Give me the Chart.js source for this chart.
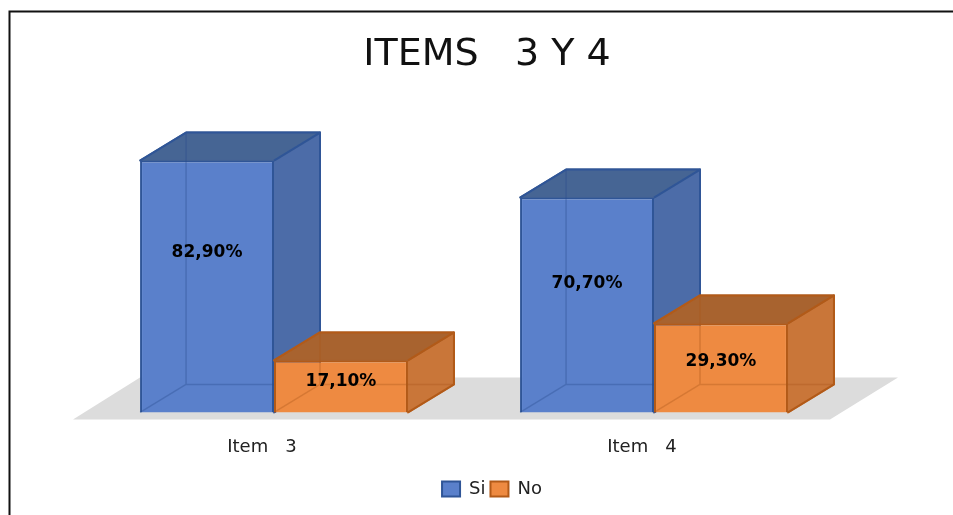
<!DOCTYPE html>
<html>
<head>
<meta charset="utf-8">
<style>
  html, body { margin: 0; padding: 0; background: #fff; }
  #wrap { position: relative; width: 953px; height: 515px; }
</style>
<script src="https://cdn.jsdelivr.net/npm/chart.js@4"></script>
</head>
<body>
<div id="wrap"><canvas id="chart" width="953" height="515"></canvas></div>
<script>
const categories = ["Item   3", "Item   4"];
const siValues = [82.9, 70.7];
const noValues = [17.1, 29.3];
const siLabels = ["82,90%", "70,70%"];
const noLabels = ["17,10%", "29,30%"];

const DEPTH_X = 46;
const DEPTH_Y = 28;
const FONT = "'DejaVu Sans'";

const faces = [
  { front: "#5a80cb", side: "#4c6ca8", top: "#466594", edge: "#2f5597", inner: "rgba(40,75,140,0.35)" },
  { front: "#ee8a41", side: "#c97639", top: "#a8632f", edge: "#b25a18", inner: "rgba(170,85,25,0.35)" },
];
const labelLift = [[34, 21], [5, 6]];
const labelText = [siLabels, noLabels];

function poly(ctx, pts, fill, stroke) {
  ctx.beginPath();
  pts.forEach((p, i) => (i ? ctx.lineTo(p[0], p[1]) : ctx.moveTo(p[0], p[1])));
  ctx.closePath();
  ctx.fillStyle = fill;
  ctx.fill();
  if (stroke) {
    ctx.strokeStyle = stroke;
    ctx.lineWidth = 2;
    ctx.lineJoin = "round";
    ctx.stroke();
  }
}

function drawBoxes(chart, index) {
  const { ctx } = chart;
  const c = faces[index];
  ctx.save();
  chart.getDatasetMeta(index).data.forEach((bar) => {
    const l = bar.x - bar.width / 2;
    const r = bar.x + bar.width / 2;
    const t = bar.y;
    const b = bar.base;
    poly(ctx, [[r, t], [r + DEPTH_X, t - DEPTH_Y], [r + DEPTH_X, b - DEPTH_Y], [r, b]], c.side, c.side);
    poly(ctx, [[l, t], [l + DEPTH_X, t - DEPTH_Y], [r + DEPTH_X, t - DEPTH_Y], [r, t]], c.top, c.top);

    bar.draw(ctx);

    // back edges seen through the front face
    ctx.strokeStyle = c.inner;
    ctx.lineWidth = 1.5;
    ctx.beginPath();
    ctx.moveTo(l + DEPTH_X, t - DEPTH_Y);
    ctx.lineTo(l + DEPTH_X, b - DEPTH_Y);
    ctx.lineTo(l, b);
    ctx.moveTo(l + DEPTH_X, b - DEPTH_Y);
    ctx.lineTo(r + DEPTH_X, b - DEPTH_Y);
    ctx.stroke();

    // outer edges
    ctx.strokeStyle = c.edge;
    ctx.lineWidth = 2;
    ctx.lineJoin = "round";
    ctx.beginPath();
    ctx.moveTo(r, t);
    ctx.lineTo(r + DEPTH_X, t - DEPTH_Y);
    ctx.moveTo(l, t);
    ctx.lineTo(l + DEPTH_X, t - DEPTH_Y);
    ctx.lineTo(r + DEPTH_X, t - DEPTH_Y);
    ctx.lineTo(r + DEPTH_X, b - DEPTH_Y);
    ctx.lineTo(r, b);
    ctx.stroke();
  });
  ctx.restore();
}

const box3d = {
  id: "box3d",
  afterLayout(chart) {
    // legend sits a little right of the title in the picture
    chart.legend.left += 5;
    chart.legend.right += 5;
  },
  beforeDraw(chart) {
    const { ctx, chartArea } = chart;
    // page frame
    ctx.save();
    ctx.strokeStyle = "#111";
    ctx.lineWidth = 2;
    ctx.beginPath();
    ctx.moveTo(9.5, 515);
    ctx.lineTo(9.5, 11.5);
    ctx.lineTo(953, 11.5);
    ctx.stroke();
    // floor
    const base = chartArea.bottom;
    poly(ctx, [
      [chartArea.left - 11, base + 7],
      [chartArea.right - 14, base + 7],
      [chartArea.right + 54, base - 35],
      [chartArea.left + 56, base - 35],
    ], "#dcdcdc");
    ctx.restore();
  },
  // Si has to be painted before No, the library goes the other way round
  beforeDatasetsDraw(chart) {
    drawBoxes(chart, 0);
    drawBoxes(chart, 1);
  },
  beforeDatasetDraw() {
    return false;
  },
  afterDatasetsDraw(chart) {
    const { ctx } = chart;
    ctx.save();
    ctx.font = "bold 17px " + FONT;
    ctx.fillStyle = "#000";
    ctx.textAlign = "center";
    ctx.textBaseline = "middle";
    labelText.forEach((texts, ds) => {
      chart.getDatasetMeta(ds).data.forEach((bar, i) => {
        ctx.fillText(texts[i], bar.x, (bar.y + bar.base) / 2 - labelLift[ds][i]);
      });
    });
    ctx.restore();
  },
};

new Chart(document.getElementById("chart"), {
  type: "bar",
  data: {
    labels: categories,
    datasets: [
      { label: "Si", data: siValues, backgroundColor: faces[0].front, borderColor: faces[0].edge, borderWidth: 2 },
      { label: "No", data: noValues, backgroundColor: faces[1].front, borderColor: faces[1].edge, borderWidth: 2 },
    ],
  },
  options: {
    responsive: false,
    animation: false,
    datasets: { bar: { categoryPercentage: 0.705, barPercentage: 1 } },
    layout: { padding: { left: 21, right: 0, top: 0, bottom: 7 } },
    plugins: {
      title: {
        display: true,
        text: "ITEMS   3 Y 4",
        color: "#111",
        font: { family: FONT, size: 38, weight: "normal" },
        padding: { top: 32, bottom: 31 },
      },
      legend: {
        position: "bottom",
        labels: {
          color: "#222",
          font: { family: FONT, size: 18 },
          boxWidth: 18,
          boxHeight: 15,
          padding: 5,
        },
      },
      tooltip: { enabled: false },
    },
    scales: {
      x: {
        grid: { display: false },
        border: { display: false },
        ticks: { color: "#222", font: { family: FONT, size: 18 }, padding: 16.5, labelOffset: -12 },
      },
      y: {
        min: 0,
        max: 100,
        grid: { display: false },
        border: { display: false },
        ticks: { display: false },
        afterFit(axis) { axis.width = 63; },
      },
      spacer: {
        position: "right",
        grid: { display: false },
        border: { display: false },
        ticks: { display: false },
        afterFit(axis) { axis.width = 109; },
      },
    },
  },
  plugins: [box3d],
});
</script>
</body>
</html>
